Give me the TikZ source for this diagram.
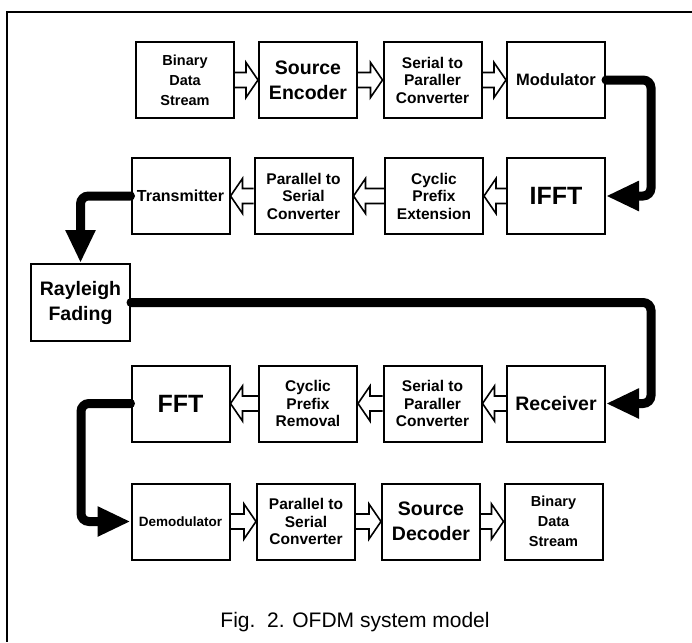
\documentclass[tikz,border=0pt]{standalone}
\usepackage{fontspec}
\setmainfont{Liberation Sans}
\usepackage{tikz}
\usetikzlibrary{arrows.meta,calc}

\tikzset{
  blk/.style={draw, line width=2pt, minimum width=98pt, minimum height=76pt, inner sep=0pt, align=center, font=\bfseries\fontsize{15.5}{17.5}\selectfont},
  small/.style={font=\bfseries\fontsize{14.5}{20}\selectfont},
  mid/.style={font=\bfseries\fontsize{16.5}{18}\selectfont},
  big/.style={font=\bfseries\fontsize{19.5}{25}\selectfont},
  huge/.style={font=\bfseries\fontsize{25}{28}\selectfont},
  bus/.style={line width=9pt, line cap=round, rounded corners=8pt, -{Triangle[length=33pt,width=28pt]}},
  hollow/.style={line width=1.6pt, line join=miter, to path={
    ($(\tikztostart)+(0,-7.5)$) -- ($(\tikztotarget)+(-12*#1,-7.5)$) -- ++(0,-10) -- (\tikztotarget)
    -- ++(-12*#1,17.5) -- ++(0,-10) -- ($(\tikztostart)+(0,7.5)$)}}
}

\begin{document}
\begin{tikzpicture}[x=1pt, y=-1pt]
\useasboundingbox (0,0) rectangle (692,642);
\draw[line width=1.5pt] (692,12) -- (7,12) -- (7,642);

\node[blk, small] (bin1) at (185,80) {Binary\\Data\\Stream};
\node[blk, big] (senc) at (308,80) {Source\\Encoder};
\node[blk] (s2p1) at (432.5,80) {Serial to\\Paraller\\Converter};
\node[blk, mid] (mod) at (556,80) {Modulator};

\node[blk, font=\bfseries\fontsize{16}{18}\selectfont] (tx) at (180.5,196) {Transmitter};
\node[blk] (p2s1) at (303.5,196) {Parallel to\\Serial\\Converter};
\node[blk] (cpe) at (434,196) {Cyclic\\Prefix\\Extension};
\node[blk, huge] (ifft) at (556,196) {IFFT};

\node[blk, big, minimum width=99pt, minimum height=77pt] (ray) at (80.5,302.5) {Rayleigh\\Fading};

\node[blk, huge] (fft) at (180.5,403.5) {FFT};
\node[blk] (cpr) at (308,403.5) {Cyclic\\Prefix\\Removal};
\node[blk] (s2p2) at (432.5,403.5) {Serial to\\Paraller\\Converter};
\node[blk, big] (rx) at (556,403.5) {Receiver};

\node[blk, font=\bfseries\fontsize{13.5}{16}\selectfont] (demod) at (180.5,521.5) {Demodulator};
\node[blk] (p2s2) at (306,521.5) {Parallel to\\Serial\\Converter};
\node[blk, big] (sdec) at (431,521.5) {Source\\Decoder};
\node[blk, small] (bin2) at (553.5,521.5) {Binary\\Data\\Stream};

\node[font=\fontsize{21}{24}\selectfont] (cap) at (355,622) {Fig.\ \ 2. OFDM system model};

\coordinate (rcol) at (651,0);
\coordinate (lcol) at (81,0);

\draw[hollow=1] (bin1.east) to (senc.west);
\draw[hollow=1] (senc.east) to (s2p1.west);
\draw[hollow=1] (s2p1.east) to (mod.west);
\draw[hollow=-1] (ifft.west) to (cpe.east);
\draw[hollow=-1] (cpe.west) to (p2s1.east);
\draw[hollow=-1] (p2s1.west) to (tx.east);
\draw[hollow=-1] (rx.west) to (s2p2.east);
\draw[hollow=-1] (s2p2.west) to (cpr.east);
\draw[hollow=-1] (cpr.west) to (fft.east);
\draw[hollow=1] (demod.east) to (p2s2.west);
\draw[hollow=1] (p2s2.east) to (sdec.west);
\draw[hollow=1] (sdec.east) to (bin2.west);

\draw[bus] (mod.east) -- (mod.east -| rcol) |- (ifft.east);
\draw[bus] (tx.west) -| (ray.north);
\draw[bus] (ray.east) -- (ray.east -| rcol) |- (rx.east);
\draw[bus] (fft.west) -- (fft.west -| lcol) |- (demod.west);
\end{tikzpicture}
\end{document}
